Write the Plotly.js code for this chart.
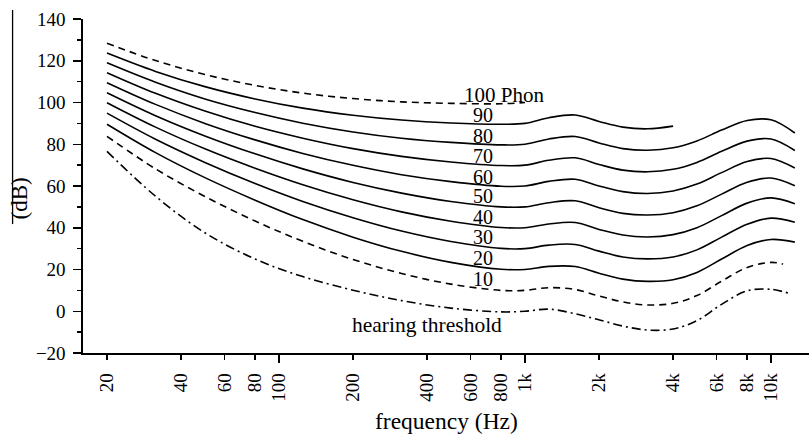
<!DOCTYPE html>
<html>
<head>
<meta charset="utf-8">
<script src="https://cdn.plot.ly/plotly-3.0.1.min.js"></script>
<style>html,body{margin:0;padding:0;background:#fff;}#chart{width:809px;height:437px;}</style>
</head>
<body>
<div id="chart"></div>
<script>
// frequencies (Hz)
const freq = [20, 31.5, 50, 80, 125, 200, 315, 500, 800, 1000, 1250, 1600, 2000, 2500, 3150, 4000, 5000, 6300, 8000, 10000, 12500];
// sound pressure level (dB) of each loudness contour
const threshold = [76.6, 55.1, 37.6, 25.0, 16.6, 10.1, 5.1, 1.5, -0.3, 0.0, 1.0, -1.2, -4.1, -7.1, -9.0, -8.5, -4.5, 3.3, 9.8, 10.5, 8.4];
const phon10  = [83.8, 68.2, 55.0, 43.2, 33.5, 24.8, 18.1, 13.0, 10.0, 10.0, 11.3, 10.4, 7.3, 4.5, 3.0, 3.8, 7.5, 14.4, 21.0, 23.4, 22.6];
const phon20  = [89.6, 76.0, 64.0, 53.2, 43.9, 35.5, 28.7, 23.4, 20.1, 20.0, 21.5, 21.4, 18.2, 15.4, 14.3, 15.1, 18.6, 25.0, 31.5, 34.4, 33.1];
const phon30  = [94.9, 82.4, 71.3, 61.2, 52.6, 44.8, 38.4, 33.4, 30.1, 30.0, 31.7, 32.0, 28.8, 26.0, 25.1, 26.0, 29.4, 35.5, 41.7, 44.6, 42.6];
const phon40  = [99.9, 88.2, 77.8, 68.5, 60.6, 53.4, 47.6, 43.1, 40.1, 40.0, 41.8, 42.5, 39.2, 36.5, 35.6, 36.7, 40.0, 45.8, 51.8, 54.3, 51.5];
const phon50  = [104.7, 93.7, 84.0, 75.4, 68.2, 61.7, 56.6, 52.6, 50.0, 50.0, 52.0, 52.9, 49.6, 46.9, 46.1, 47.2, 50.5, 56.1, 61.8, 63.8, 60.1];
const phon60  = [109.5, 99.1, 90.0, 82.1, 75.6, 69.9, 65.4, 62.1, 59.9, 60.0, 62.2, 63.2, 60.0, 57.3, 56.4, 57.6, 60.9, 66.4, 71.7, 73.2, 68.6];
const phon70  = [114.3, 104.4, 95.9, 88.6, 82.9, 77.9, 74.2, 71.5, 69.8, 70.0, 72.3, 73.5, 70.3, 67.6, 66.8, 68.0, 71.3, 76.6, 81.5, 82.5, 77.0];
const phon80  = [119.0, 109.7, 101.7, 95.2, 90.1, 85.9, 82.9, 80.9, 79.7, 80.0, 82.5, 83.7, 80.6, 77.9, 77.1, 78.3, 81.6, 86.8, 91.4, 91.7, 85.4];
const phon90  = [123.7, 114.9, 107.6, 101.7, 97.3, 93.9, 91.6, 90.2, 89.6, 90.0, 92.7, 94.0, 90.9, 88.2, 87.4, 88.7];
const phon100 = [128.4, 120.1, 113.4, 108.2, 104.5, 101.9, 100.3, 99.6, 99.4, 100.0];
// last frequency of the shorter curves
const freq10End = 11200;
const thresholdEndFreq = 12000;

// curve labels
const curveLabels = ['90', '80', '70', '60', '50', '40', '30', '20', '10'];
const curveLabelY = [94.0, 84.0, 74.4, 64.5, 55.2, 45.3, 35.4, 25.4, 15.4];

// x ticks
const xTickVals = [20, 40, 60, 80, 100, 200, 400, 600, 800, 1000, 2000, 4000, 6000, 8000, 10000];
const xTickText = ['20', '40', '60', '80', '100', '200', '400', '600', '800', '1k', '2k', '4k', '6k', '8k', '10k'];
const xMajorVals = [100, 1000, 10000];

const FONT = 'Liberation Serif';
const solid = {color: '#000', width: 1.6};

function curve(xs, ys, line) {
  return {x: xs, y: ys, type: 'scatter', mode: 'lines', line: Object.assign({shape: 'spline', smoothing: 1}, line), hoverinfo: 'skip', showlegend: false};
}

const f10 = freq.slice(0, freq.length - 1).concat([freq10End]);
const fThr = freq.slice(0, freq.length - 1).concat([thresholdEndFreq]);

const traces = [
  curve(freq.slice(0, phon100.length), phon100, {color: '#000', width: 1.6, dash: '7px,5px'}),
  curve(freq.slice(0, phon90.length), phon90, solid),
  curve(freq, phon80, solid),
  curve(freq, phon70, solid),
  curve(freq, phon60, solid),
  curve(freq, phon50, solid),
  curve(freq, phon40, solid),
  curve(freq, phon30, solid),
  curve(freq, phon20, solid),
  curve(f10, phon10, {color: '#000', width: 1.6, dash: '7px,5px'}),
  curve(fThr, threshold, {color: '#000', width: 1.6, dash: '9px,4px,2px,4px'}),
  {x: [100], y: [null], xaxis: 'x2', type: 'scatter', mode: 'lines', hoverinfo: 'skip', showlegend: false}
];

const labelX = Math.log10(675);
const annotations = curveLabels.map((t, i) => ({
  x: labelX, y: curveLabelY[i], xref: 'x', yref: 'y', text: t, showarrow: false,
  xanchor: 'center', yanchor: 'middle', font: {family: FONT, size: 20, color: '#000'}
}));
annotations.push({x: Math.log10(556), y: 103.8, xref: 'x', yref: 'y', text: '100 Phon', showarrow: false,
  xanchor: 'left', yanchor: 'middle', font: {family: FONT, size: 21, color: '#000'}});
annotations.push({x: Math.log10(194), y: -6.6, xref: 'x', yref: 'y', text: 'hearing threshold', showarrow: false,
  xanchor: 'left', yanchor: 'middle', font: {family: FONT, size: 21.5, color: '#000'}});
annotations.push({x: -0.087, y: 0.462, xref: 'paper', yref: 'paper', text: '(dB)', textangle: -90, showarrow: false,
  xanchor: 'center', yanchor: 'middle', font: {family: FONT, size: 23, color: '#000'}});
annotations.push({x: 0.5, y: -0.205, xref: 'paper', yref: 'paper', text: 'frequency (Hz)', showarrow: false,
  xanchor: 'center', yanchor: 'middle', font: {family: FONT, size: 23.5, color: '#000'}});

const xRange = [1.2035, 4.1545];

const layout = {
  width: 809, height: 437,
  margin: {l: 83, r: 0, t: 19, b: 84},
  paper_bgcolor: '#fff', plot_bgcolor: '#fff',
  font: {family: FONT, size: 19, color: '#000'},
  showlegend: false,
  xaxis: {
    type: 'log', range: xRange, tickmode: 'array', tickvals: xTickVals, ticktext: xTickText,
    tickangle: -90, ticks: 'outside', ticklen: 5, tickwidth: 1.5, tickcolor: '#000',
    showline: true, linecolor: '#000', linewidth: 1.6, showgrid: false, zeroline: false, mirror: false,
    tickfont: {family: FONT, size: 19, color: '#000'}, ticklabelstandoff: 6,
    automargin: false
  },
  xaxis2: {
    type: 'log', range: xRange, overlaying: 'x', anchor: 'y', side: 'bottom', tickmode: 'array', tickvals: xMajorVals,
    ticks: 'outside', ticklen: 9, tickwidth: 1.5, tickcolor: '#000', showticklabels: false,
    showline: false, showgrid: false, zeroline: false
  },
  yaxis: {
    range: [-20, 140], tickmode: 'linear', tick0: 0, dtick: 20, ticks: 'outside', ticklen: 8, tickwidth: 1.5, tickcolor: '#000',
    minor: {dtick: 10, tick0: 0, ticks: 'outside', ticklen: 4, tickwidth: 1.5, tickcolor: '#000', showgrid: false},
    showline: true, linecolor: '#000', linewidth: 1.6, showgrid: false, zeroline: false, mirror: false,
    tickfont: {family: FONT, size: 19, color: '#000'}, ticklabelstandoff: 4, automargin: false
  },
  shapes: [
    {type: 'line', xref: 'paper', yref: 'paper', x0: -0.097, x1: -0.097, y0: 0.386, y1: 1.027, line: {color: '#000', width: 1.3}}
  ],
  annotations: annotations
};

Plotly.newPlot('chart', traces, layout, {displayModeBar: false, staticPlot: true});
</script>
</body>
</html>
